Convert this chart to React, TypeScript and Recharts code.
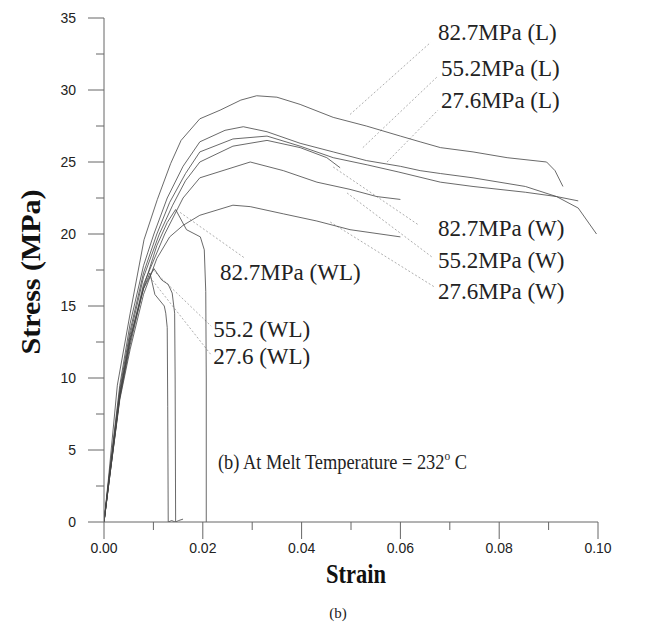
import { LineChart, Line, XAxis, YAxis, ReferenceLine, ReferenceDot } from "recharts"

type Pt = [number, number]

// axis ticks (minor every 0.01 / 2.5, labelled every 0.02 / 5)
const strainTicks = [0, 0.01, 0.02, 0.03, 0.04, 0.05, 0.06, 0.07, 0.08, 0.09, 0.1]
const stressTicks = [0, 2.5, 5, 7.5, 10, 12.5, 15, 17.5, 20, 22.5, 25, 27.5, 30, 32.5, 35]

// stress-strain curves, [strain, stress MPa]
const curve827L: Pt[] = [
    [0, 0], [0.0009, 3], [0.0027, 9.5], [0.0053, 14.5], [0.0081, 19.6], [0.0108, 22.4],
    [0.0135, 24.9], [0.0156, 26.5], [0.0194, 28.0], [0.0235, 28.6], [0.0277, 29.3],
    [0.0309, 29.6], [0.035, 29.5], [0.0397, 29.0], [0.0464, 28.1], [0.0531, 27.5],
    [0.06, 26.8], [0.064, 26.4], [0.0681, 26.0], [0.0747, 25.7], [0.0816, 25.3],
    [0.0896, 25.0], [0.0913, 24.4], [0.0929, 23.3],
]
const curve552L: Pt[] = [
    [0, 0], [0.0011, 3.4], [0.0032, 9.5], [0.0053, 13.8], [0.008, 17.8], [0.0101, 20],
    [0.0128, 22.5], [0.016, 24.7], [0.0194, 26.4], [0.0245, 27.2], [0.0282, 27.45],
    [0.033, 27.1], [0.0397, 26.3], [0.0464, 25.7], [0.0531, 25.1], [0.06, 24.7],
    [0.064, 24.4], [0.0681, 24.2], [0.0747, 23.9], [0.0853, 23.3], [0.0916, 22.6],
    [0.096, 21.8], [0.0997, 20.0],
]
const curve276L: Pt[] = [
    [0, 0], [0.0011, 3.3], [0.0032, 9.2], [0.0053, 13.3], [0.008, 17.3], [0.0107, 20],
    [0.0133, 22.2], [0.0165, 24.2], [0.0194, 25.7], [0.0261, 26.6], [0.033, 26.8],
    [0.0397, 26.1], [0.0464, 25.3], [0.0533, 24.8], [0.0597, 24.3], [0.0681, 23.6],
    [0.0747, 23.3], [0.0853, 22.9], [0.0916, 22.6], [0.096, 22.3],
]
const curve827W: Pt[] = [
    [0, 0], [0.0011, 3.2], [0.0032, 9], [0.0053, 13], [0.008, 17], [0.0112, 20],
    [0.0139, 22], [0.0165, 23.7], [0.0194, 25.0], [0.0261, 26.1], [0.033, 26.5],
    [0.0397, 26.0], [0.0451, 25.3], [0.0478, 24.6],
]
const curve552W: Pt[] = [
    [0, 0], [0.0011, 3.1], [0.0032, 8.8], [0.0053, 12.6], [0.008, 16.5], [0.0123, 20],
    [0.016, 22.5], [0.0194, 23.9], [0.0296, 25.0], [0.0363, 24.4], [0.0431, 23.6],
    [0.0498, 23.1], [0.0552, 22.6], [0.06, 22.4],
]
const curve276W: Pt[] = [
    [0, 0], [0.0011, 3], [0.0032, 8.5], [0.0053, 12], [0.008, 15.8], [0.0107, 18.3],
    [0.0133, 19.8], [0.016, 20.6], [0.0194, 21.3], [0.0261, 22.0], [0.0296, 21.9],
    [0.0363, 21.4], [0.0431, 20.9], [0.0498, 20.3], [0.06, 19.8],
]
const curve827WL: Pt[] = [
    [0, 0], [0.0011, 3], [0.0032, 8.6], [0.0053, 12.3], [0.008, 16.3], [0.0107, 19.2],
    [0.0128, 20.8], [0.0145, 21.7], [0.0167, 20.3], [0.0195, 19.8], [0.0203, 18.9],
    [0.0206, 16], [0.0207, 10], [0.0207, 0],
]
const curve552WL: Pt[] = [
    [0, 0], [0.0011, 3.1], [0.0032, 8.8], [0.0053, 12.8], [0.008, 16.2], [0.0101, 17.6],
    [0.0117, 16.8], [0.013, 16.5], [0.0138, 15.9], [0.0143, 14.5], [0.0144, 10],
    [0.0145, 0], [0.0151, 0.1], [0.016, 0.2],
]
const curve276WL: Pt[] = [
    [0, 0], [0.0011, 3], [0.0032, 8.7], [0.0053, 12.6], [0.008, 16.2], [0.0093, 17.3],
    [0.0103, 15.8], [0.0122, 15.0], [0.0125, 14.5], [0.0128, 13.5], [0.0129, 8],
    [0.013, 0], [0.0137, 0.1], [0.0144, 0],
]

const series = [
    { name: "82.7MPa (L)", pts: curve827L },
    { name: "55.2MPa (L)", pts: curve552L },
    { name: "27.6MPa (L)", pts: curve276L },
    { name: "82.7MPa (W)", pts: curve827W },
    { name: "55.2MPa (W)", pts: curve552W },
    { name: "27.6MPa (W)", pts: curve276W },
    { name: "82.7MPa (WL)", pts: curve827WL },
    { name: "55.2 (WL)", pts: curve552WL },
    { name: "27.6 (WL)", pts: curve276WL },
]

// callouts: leader line from curve to label, label anchor
const notes: { text: string; from: Pt; to: Pt; at: Pt }[] = [
    { text: "82.7MPa (L)", from: [0.0498, 28.3], to: [0.0661, 33.3], at: [0.0676, 33.96] },
    { text: "55.2MPa (L)", from: [0.0524, 26.0], to: [0.0674, 30.9], at: [0.0682, 31.46] },
    { text: "27.6MPa (L)", from: [0.0573, 25.0], to: [0.0676, 28.6], at: [0.0682, 29.3] },
    { text: "82.7MPa (W)", from: [0.0464, 24.65], to: [0.0638, 20.6], at: [0.0676, 20.35] },
    { text: "55.2MPa (W)", from: [0.0492, 22.85], to: [0.0664, 18.4], at: [0.0676, 18.19] },
    { text: "27.6MPa (W)", from: [0.0458, 20.83], to: [0.067, 16.3], at: [0.0676, 16.04] },
    { text: "82.7MPa (WL)", from: [0.0154, 21.5], to: [0.0286, 18.3], at: [0.0235, 17.36] },
    { text: "55.2 (WL)", from: [0.0099, 17.5], to: [0.0217, 13.6], at: [0.0221, 13.4] },
    { text: "27.6 (WL)", from: [0.0093, 17.0], to: [0.0217, 11.6], at: [0.0221, 11.46] },
]

const SERIF = "'Liberation Serif', 'Times New Roman', serif"
const SANS = "'Liberation Sans', Arial, sans-serif"

const XTick = (props: any) => {
    const { x, y, payload } = props
    const v = payload.value
    const major = Math.round(v * 100) % 2 === 0
    return (
        <g>
            <line x1={x} x2={x} y1={y} y2={y + (major ? 17 : 8)} stroke="#666" />
            {major && (
                <text x={x} y={y + 31} textAnchor="middle" fontFamily={SANS} fontSize={14} fill="#222">
                    {v.toFixed(2)}
                </text>
            )}
        </g>
    )
}

const YTick = (props: any) => {
    const { x, y, payload } = props
    const v = payload.value
    const major = v % 5 === 0
    return (
        <g>
            <line x1={x - (major ? 16 : 8)} x2={x} y1={y} y2={y} stroke="#666" />
            {major && (
                <text x={x - 28} y={y + 5} textAnchor="end" fontFamily={SANS} fontSize={14} fill="#222">
                    {v}
                </text>
            )}
        </g>
    )
}

export default function App() {
    return (
        <div style={{ position: "absolute", left: 0, top: 0, width: 652, height: 629, background: "#fff" }}>
            <LineChart width={652} height={629} margin={{ top: 18, right: 54, bottom: 77, left: 44 }}>
                <XAxis
                    type="number"
                    dataKey="x"
                    domain={[0, 0.1]}
                    ticks={strainTicks}
                    interval={0}
                    tickSize={0}
                    tickMargin={0}
                    tickLine={false}
                    axisLine={{ stroke: "#666" }}
                    tick={<XTick />}
                    height={30}
                    allowDataOverflow
                />
                <YAxis
                    type="number"
                    domain={[0, 35]}
                    ticks={stressTicks}
                    interval={0}
                    tickSize={0}
                    tickMargin={0}
                    tickLine={false}
                    axisLine={{ stroke: "#666" }}
                    tick={<YTick />}
                    width={60}
                    allowDataOverflow
                />
                {notes.map((n) => (
                    <ReferenceLine
                        key={"l" + n.text}
                        segment={[{ x: n.from[0], y: n.from[1] }, { x: n.to[0], y: n.to[1] }]}
                        stroke="#999"
                        strokeWidth={0.8}
                        strokeDasharray="2 2"
                    />
                ))}
                {series.map((s) => (
                    <Line
                        key={s.name}
                        name={s.name}
                        data={s.pts.map(([x, y]) => ({ x, y }))}
                        dataKey="y"
                        type="linear"
                        dot={false}
                        stroke="#444"
                        strokeWidth={0.8}
                        isAnimationActive={false}
                    />
                ))}
                {notes.map((n) => (
                    <ReferenceDot
                        key={"t" + n.text}
                        x={n.at[0]}
                        y={n.at[1]}
                        r={0}
                        fill="none"
                        stroke="none"
                        label={(p: any) => (
                            <text
                                x={p.viewBox.x}
                                y={p.viewBox.y}
                                dominantBaseline="central"
                                fontFamily={SERIF}
                                fontSize={23}
                                fill="#222"
                            >
                                {n.text}
                            </text>
                        )}
                    />
                ))}
            </LineChart>
            <svg width={652} height={629} style={{ position: "absolute", left: 0, top: 0, pointerEvents: "none" }}>
                <text
                    transform="translate(30,272) rotate(-90)"
                    textAnchor="middle"
                    dominantBaseline="central"
                    fontFamily={SERIF}
                    fontWeight="bold"
                    fontSize={28}
                    textLength={165}
                    lengthAdjust="spacingAndGlyphs"
                    fill="#111"
                >
                    Stress (MPa)
                </text>
                <text
                    x={356}
                    y={583}
                    textAnchor="middle"
                    fontFamily={SERIF}
                    fontWeight="bold"
                    fontSize={27}
                    textLength={60}
                    lengthAdjust="spacingAndGlyphs"
                    fill="#111"
                >
                    Strain
                </text>
                <text x={338} y={618} textAnchor="middle" fontFamily={SERIF} fontSize={15} fill="#222">
                    (b)
                </text>
                <text transform="translate(218,469) scale(0.875,1)" fontFamily={SERIF} fontSize={21} fill="#222">
                    (b) At Melt Temperature = 232
                    <tspan dy={-9} fontSize={13}>o</tspan>
                    <tspan dy={9}> C</tspan>
                </text>
            </svg>
        </div>
    )
}
